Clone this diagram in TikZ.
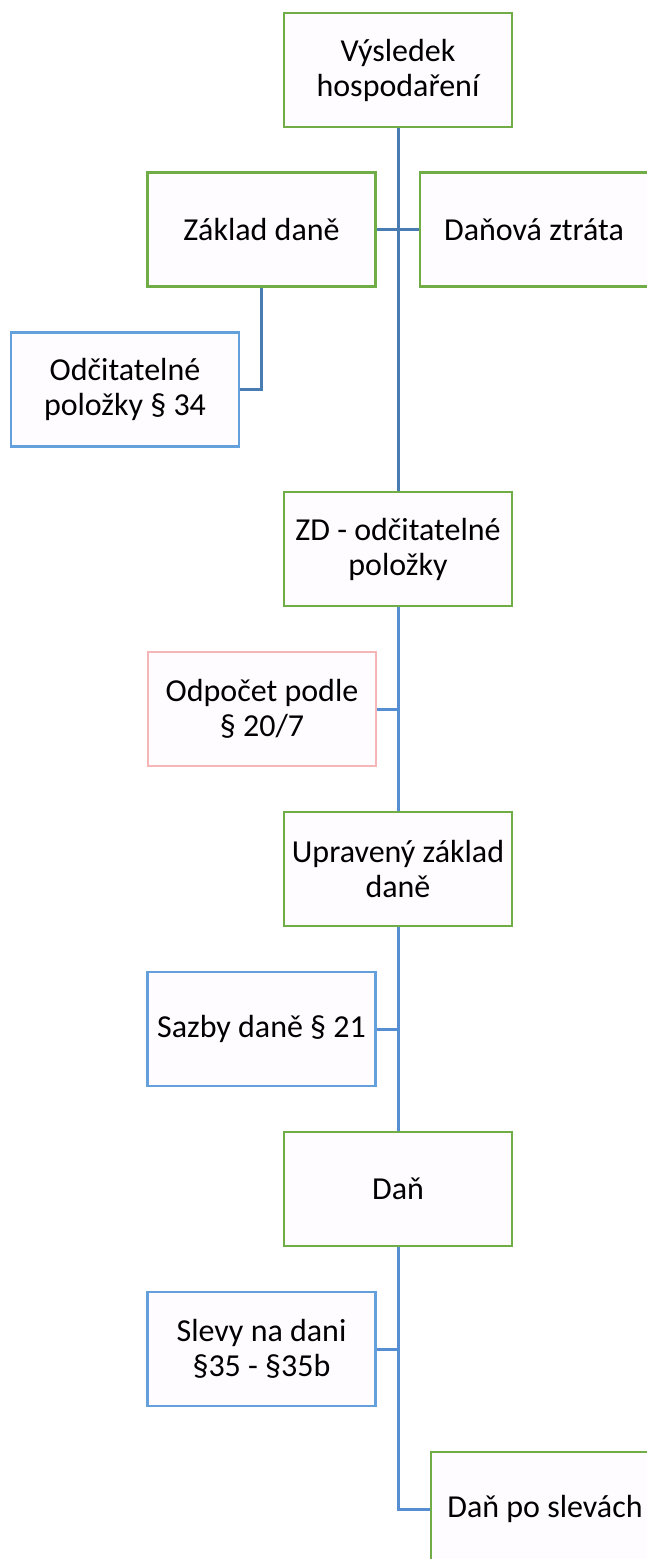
\documentclass[tikz,border=0pt]{standalone}
\usepackage{fontspec}
\setmainfont{Carlito}
\definecolor{boxgreen}{RGB}{112, 173, 71}
\definecolor{boxblue}{RGB}{100, 160, 220}
\definecolor{boxpink}{RGB}{244, 182, 182}
\definecolor{boxfill}{RGB}{255, 252, 255}
\definecolor{linkdark}{RGB}{72, 124, 178}
\definecolor{linklight}{RGB}{86, 142, 212}
\usetikzlibrary{positioning, calc}

\begin{document}
\begin{tikzpicture}[x=1pt, y=-1pt,
    stage/.style={draw=boxgreen, fill=boxfill, line width=2.5pt, minimum width=228pt, minimum height=114pt, align=center, inner sep=4pt, font=\fontsize{32}{35}\selectfont},
    side/.style={stage, draw=boxblue},
    sidepink/.style={stage, draw=boxpink},
    link/.style={draw=linkdark, line width=3pt},
    linkb/.style={draw=linklight, line width=3pt}]
  \useasboundingbox (0,0) rectangle (646,1559);

  % Main chain
  \node[stage] (vh) at (398, 70) {Výsledek\\hospodaření};
  \node[stage] (zd) at (398, 549) {ZD - odčitatelné\\položky};
  \node[stage] (upr) at (398, 869) {Upravený základ\\daně};
  \node[stage] (dan) at (398, 1189) {Daň};

  % Upper branches
  \node[stage] (zaklad) at (261.5, 229.5) {Základ daně};
  \node[stage] (ztrata) at (534, 229.5) {Daňová ztráta};
  \node[side] (odcit) at (125, 389.5) {Odčitatelné\\položky § 34};

  % Side inputs
  \node[sidepink] (odpocet) at (262, 709) {Odpočet podle\\§ 20/7};
  \node[side] (sazby) at (261.5, 1029) {Sazby daně § 21};
  \node[side] (slevy) at (261.5, 1349) {Slevy na dani\\§35 - §35b};

  % Result
  \node[stage] (posl) at (545, 1509) {Daň po slevách};

  % Connectors
  \draw[link] (vh.south) -- (zd.north);
  \draw[link] (zaklad.east) -- (ztrata.west);
  \draw[link] (zaklad.south) |- (odcit.east);
  \draw[linkb] (zd.south) -- (upr.north);
  \draw[linkb] (odpocet.east) -- (odpocet.east -| zd.south);
  \draw[linkb] (upr.south) -- (dan.north);
  \draw[linkb] (sazby.east) -- (sazby.east -| upr.south);
  \draw[linkb] (slevy.east) -- (slevy.east -| dan.south);
  \draw[linkb] (dan.south) |- (posl.west);
\end{tikzpicture}
\end{document}
